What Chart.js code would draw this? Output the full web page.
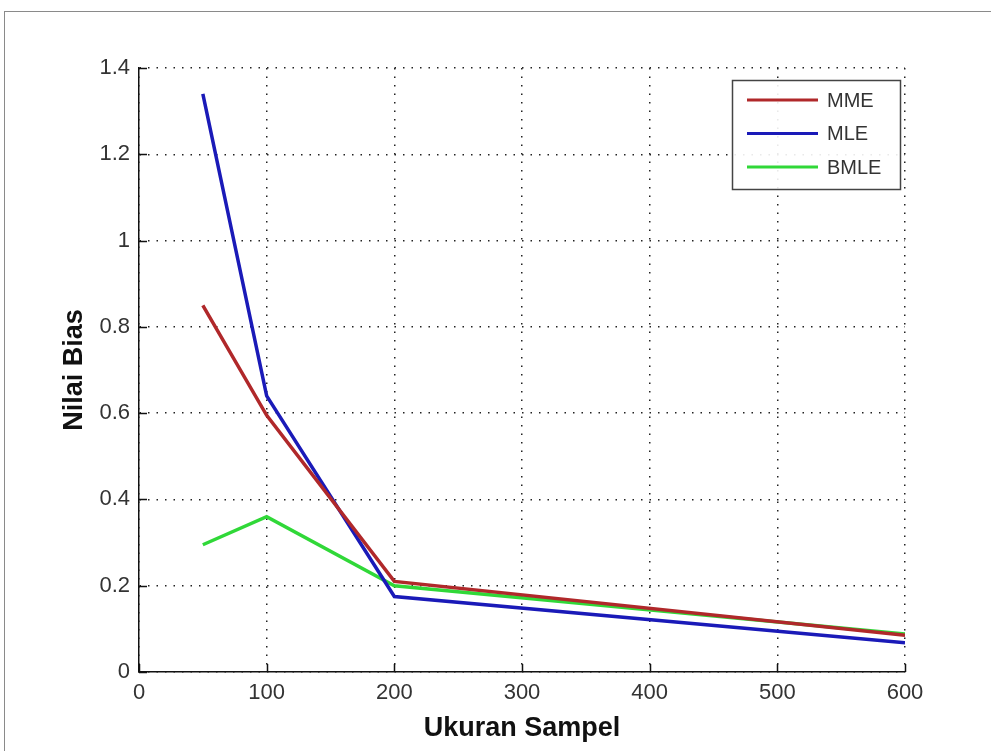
<!DOCTYPE html>
<html>
<head>
<meta charset="utf-8">
<title>Nilai Bias vs Ukuran Sampel</title>
<script src="https://cdn.jsdelivr.net/npm/chart.js@4.4.1/dist/chart.umd.min.js"></script>
<style>
  html, body { margin: 0; padding: 0; background: #ffffff; }
  #wrap { position: relative; width: 991px; height: 751px; overflow: hidden; background: #ffffff; }
  #frame { position: absolute; left: 4px; top: 11px; right: -2px; bottom: -2px; border-left: 1px solid #8a8a8a; border-top: 1px solid #8a8a8a; }
  canvas { position: absolute; left: 0; top: 0; }
</style>
</head>
<body>
<div id="wrap">
  <div id="frame"></div>
  <canvas id="chart" width="991" height="751"></canvas>
</div>
<script>
// Sample sizes and the bias of each estimator
const sampleSizes = [50, 100, 200, 600];
const biasMME  = [0.85, 0.595, 0.21, 0.085];
const biasMLE  = [1.34, 0.64, 0.175, 0.068];
const biasBMLE = [0.295, 0.36, 0.20, 0.088];

const xTicks = [0, 100, 200, 300, 400, 500, 600];
const yTicks = [0, 0.2, 0.4, 0.6, 0.8, 1, 1.2, 1.4];

const seriesNames = ['MME', 'MLE', 'BMLE'];
const seriesColors = ['#b0282a', '#1a1ab8', '#30d838'];

const toPoints = (ys) => sampleSizes.map((x, i) => ({ x: x, y: ys[i] }));

const tickFont = { family: "'Liberation Sans Narrow', 'Liberation Sans', Arial, sans-serif", size: 22 };
const titleFont = { family: "'Liberation Sans Narrow', 'Liberation Sans', Arial, sans-serif", size: 27, weight: 'bold' };

// Inward tick marks on the left and bottom axes
const inwardTicks = {
  id: 'inwardTicks',
  afterDatasetsDraw(chart) {
    const { ctx, chartArea: a, scales } = chart;
    ctx.save();
    ctx.strokeStyle = '#111';
    ctx.lineWidth = 1.5;
    ctx.beginPath();
    xTicks.forEach(v => {
      const px = Math.round(scales.x.getPixelForValue(v)) + 0.5;
      ctx.moveTo(px, a.bottom);
      ctx.lineTo(px, a.bottom - 8);
    });
    yTicks.forEach(v => {
      const py = Math.round(scales.y.getPixelForValue(v)) + 0.5;
      ctx.moveTo(a.left, py);
      ctx.lineTo(a.left + 8, py);
    });
    ctx.stroke();
    ctx.restore();
  }
};

// Legend box in the upper right corner of the axes
const legendBox = {
  id: 'legendBox',
  afterDraw(chart) {
    const { ctx } = chart;
    const box = { x: 732, y: 80, w: 168, h: 109 };
    ctx.save();
    ctx.fillStyle = 'rgba(255,255,255,0.9)';
    ctx.fillRect(box.x, box.y, box.w, box.h);
    ctx.strokeStyle = '#444';
    ctx.lineWidth = 1.5;
    ctx.strokeRect(box.x + 0.5, box.y + 0.5, box.w, box.h);
    ctx.font = "20px 'Liberation Sans Narrow', 'Liberation Sans', Arial, sans-serif";
    ctx.textBaseline = 'middle';
    seriesNames.forEach((name, i) => {
      const cy = 100 + i * 33.5;
      ctx.strokeStyle = seriesColors[i];
      ctx.lineWidth = 3;
      ctx.beginPath();
      ctx.moveTo(747, cy);
      ctx.lineTo(818, cy);
      ctx.stroke();
      ctx.fillStyle = '#333';
      ctx.fillText(name, 827, cy + 1);
    });
    ctx.restore();
  }
};

new Chart(document.getElementById('chart'), {
  type: 'line',
  data: {
    datasets: seriesNames.map((name, i) => ({
      label: name,
      data: toPoints([biasMME, biasMLE, biasBMLE][i]),
      borderColor: seriesColors[i],
      backgroundColor: seriesColors[i],
      borderWidth: 3.5,
      pointRadius: 0,
      tension: 0,
      fill: false
    }))
  },
  options: {
    responsive: false,
    animation: false,
    layout: { padding: { left: 0, right: 86, top: 68, bottom: 0 } },
    plugins: { legend: { display: false }, tooltip: { enabled: false } },
    scales: {
      x: {
        type: 'linear',
        min: 0,
        max: 600,
        afterBuildTicks(scale) { scale.ticks = xTicks.map(v => ({ value: v })); },
        afterFit(scale) { scale.height = 79; },
        ticks: { font: tickFont, color: '#333', padding: 8, maxRotation: 0, autoSkip: false },
        grid: { color: '#222', lineWidth: 1.5, drawTicks: false },
        border: { display: true, color: '#111', width: 1.5, dash: [1.5, 7] },
        title: { display: true, text: 'Ukuran Sampel', font: titleFont, color: '#111', padding: { top: 0, bottom: 6 } }
      },
      y: {
        min: 0,
        max: 1.4,
        afterBuildTicks(scale) { scale.ticks = yTicks.map(v => ({ value: v })); },
        afterFit(scale) { scale.width = 139; },
        ticks: {
          font: tickFont, color: '#333', padding: 9, autoSkip: false,
          callback: (v) => String(Number(Number(v).toFixed(1)))
        },
        grid: { color: '#222', lineWidth: 1.5, drawTicks: false },
        border: { display: true, color: '#111', width: 1.5, dash: [1.5, 7] },
        title: { display: true, text: 'Nilai Bias', font: titleFont, color: '#111', padding: { top: 58, bottom: 0 } }
      }
    }
  },
  plugins: [inwardTicks, legendBox]
});
</script>
</body>
</html>
